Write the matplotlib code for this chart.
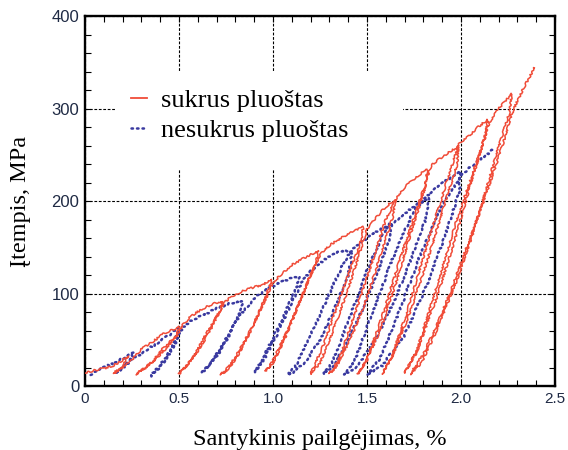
import numpy as np
import matplotlib
matplotlib.use("Agg")
import matplotlib.pyplot as plt
from matplotlib.ticker import MultipleLocator, FixedLocator, FixedFormatter
from matplotlib.patches import Rectangle
from matplotlib.lines import Line2D

# twisted bundle (sukrus pluostas): cyclic load / unload path, strain % and stress MPa
red_x = [0.00, 0.05, 0.10, 0.15, 0.20, 0.23,
         0.21, 0.18, 0.15,
         0.19, 0.25, 0.30, 0.36, 0.42, 0.50,
         0.49, 0.42, 0.35, 0.30, 0.27,
         0.32, 0.38, 0.45, 0.50, 0.52, 0.56, 0.62, 0.68, 0.73,
         0.72, 0.66, 0.60, 0.55, 0.50,
         0.54, 0.60, 0.66, 0.71, 0.74, 0.78, 0.84, 0.90, 0.95, 0.99,
         0.98, 0.93, 0.87, 0.81, 0.76, 0.72,
         0.77, 0.84, 0.91, 0.97, 1.00, 1.05, 1.10, 1.16, 1.21, 1.24,
         1.23, 1.17, 1.10, 1.03, 0.99, 0.96,
         1.00, 1.06, 1.13, 1.20, 1.25, 1.30, 1.36, 1.42, 1.48,
         1.47, 1.40, 1.33, 1.27, 1.22, 1.20,
         1.25, 1.32, 1.40, 1.47, 1.50, 1.54, 1.59, 1.63, 1.65,
         1.64, 1.57, 1.49, 1.41, 1.34, 1.30,
         1.35, 1.43, 1.52, 1.60, 1.66, 1.70, 1.75, 1.80, 1.82,
         1.81, 1.74, 1.66, 1.57, 1.49, 1.45,
         1.50, 1.58, 1.68, 1.78, 1.84, 1.88, 1.93, 1.985,
         1.98, 1.91, 1.82, 1.72, 1.63, 1.58,
         1.63, 1.72, 1.83, 1.93, 1.99, 2.04, 2.09, 2.14,
         2.13, 2.06, 1.97, 1.87, 1.77, 1.70,
         1.76, 1.86, 1.97, 2.08, 2.15, 2.20, 2.27,
         2.26, 2.18, 2.08, 1.97, 1.87, 1.79, 1.73,
         1.80, 1.87, 1.94, 2.03, 2.13, 2.22, 2.28, 2.34, 2.39]
red_y = [14, 17, 19, 22, 28, 33,
         25, 18, 14,
         18, 28, 40, 48, 57, 64,
         55, 42, 24, 16, 13,
         20, 30, 45, 58, 66, 75, 83, 89, 92,
         82, 62, 40, 24, 13,
         22, 38, 58, 78, 90, 97, 103, 107, 110, 116,
         106, 82, 55, 32, 18, 12,
         22, 45, 72, 98, 112, 122, 131, 138, 143, 147,
         135, 105, 70, 40, 24, 16,
         25, 50, 85, 120, 142, 152, 160, 167, 172,
         158, 120, 80, 45, 22, 13,
         25, 60, 105, 150, 170, 180, 192, 199, 201,
         185, 140, 90, 50, 22, 13,
         28, 75, 130, 180, 205, 215, 224, 232, 234,
         215, 170, 115, 60, 25, 13,
         28, 75, 140, 200, 238, 245, 252, 259,
         240, 195, 135, 75, 30, 13,
         30, 85, 160, 225, 262, 270, 280, 288,
         270, 225, 160, 95, 40, 14,
         35, 100, 175, 240, 285, 300, 316,
         298, 245, 175, 110, 60, 25, 13,
         35, 65, 100, 150, 205, 260, 300, 325, 344]

# untwisted bundle (nesukrus pluostas)
blue_x = [0.03, 0.08, 0.14, 0.20, 0.26,
          0.24, 0.20, 0.16,
          0.20, 0.26, 0.32, 0.38, 0.44, 0.50,
          0.49, 0.46, 0.42, 0.38, 0.35,
          0.39, 0.44, 0.49, 0.52, 0.56, 0.62, 0.70, 0.78, 0.84,
          0.83, 0.78, 0.72, 0.66, 0.62,
          0.67, 0.74, 0.82, 0.90, 0.97, 1.04, 1.10, 1.14,
          1.13, 1.07, 1.00, 0.94, 0.90,
          0.95, 1.02, 1.10, 1.17, 1.23, 1.30, 1.36, 1.40, 1.42,
          1.40, 1.33, 1.25, 1.17, 1.10, 1.08,
          1.13, 1.21, 1.30, 1.38, 1.43, 1.50, 1.56, 1.61, 1.63,
          1.62, 1.55, 1.47, 1.39, 1.32, 1.27,
          1.32, 1.40, 1.50, 1.60, 1.66, 1.72, 1.78, 1.83,
          1.82, 1.74, 1.65, 1.55, 1.45, 1.38,
          1.44, 1.53, 1.64, 1.75, 1.84, 1.92, 2.00,
          1.99, 1.92, 1.82, 1.70, 1.58, 1.50,
          1.57, 1.67, 1.78, 1.90, 2.00, 2.08, 2.18]
blue_y = [12, 18, 24, 30, 36,
          28, 19, 14,
          20, 30, 38, 46, 54, 63,
          55, 42, 28, 18, 11,
          18, 32, 50, 63, 70, 76, 84, 90, 92,
          82, 60, 38, 22, 14,
          25, 48, 75, 95, 105, 112, 117, 119,
          108, 82, 52, 28, 15,
          28, 55, 90, 118, 130, 140, 146, 146, 142,
          120, 85, 50, 25, 14, 12,
          25, 60, 100, 135, 150, 160, 168, 174, 176,
          160, 120, 80, 45, 22, 13,
          28, 70, 125, 170, 180, 190, 198, 203,
          185, 140, 95, 52, 22, 12,
          30, 80, 140, 190, 210, 222, 232,
          210, 165, 110, 55, 22, 12,
          30, 80, 140, 195, 228, 242, 257]

x_ticks = [0, 0.5, 1.0, 1.5, 2.0, 2.5]
x_labels = ["0", "0.5", "1.0", "1.5", "2.0", "2.5"]
y_ticks = [0, 100, 200, 300, 400]
y_labels = ["0", "100", "200", "300", "400"]

serif = "Liberation Serif"
sans = "Liberation Sans"
red = "#f04c38"
blue = "#3a3aa0"

fig = plt.figure(figsize=(5.68, 4.5), dpi=100)
ax = fig.add_axes([0.1496, 0.142, 0.8275, 0.822])

ax.set_xlim(0, 2.5)
ax.set_ylim(0, 400)
ax.set_axisbelow(True)
ax.grid(True, which="major", color="black", linestyle=(0, (2.5, 1.5)), linewidth=0.8)

# white area behind the legend hides the grid there
ax.add_patch(Rectangle((0.064, 0.584), 0.613, 0.265, transform=ax.transAxes,
                       facecolor="white", edgecolor="none", zorder=1))

red_line, = ax.plot(red_x, red_y, color=red, linewidth=1.1, zorder=3)
red_line.set_sketch_params(scale=0.9, length=5, randomness=6)

blue_line, = ax.plot(blue_x, blue_y, color=blue, linewidth=1.8, zorder=2,
                     linestyle=(0, (0.6, 1.6)), dash_capstyle="round")
blue_line.set_sketch_params(scale=0.8, length=6, randomness=5)

ax.xaxis.set_major_locator(FixedLocator(x_ticks))
ax.xaxis.set_major_formatter(FixedFormatter(x_labels))
ax.yaxis.set_major_locator(FixedLocator(y_ticks))
ax.yaxis.set_major_formatter(FixedFormatter(y_labels))
ax.xaxis.set_minor_locator(MultipleLocator(0.1))
ax.yaxis.set_minor_locator(MultipleLocator(20))
ax.tick_params(which="both", direction="in", top=True, right=True,
               length=4, width=0.8, colors="black")
ax.tick_params(axis="x", which="major", labelsize=11, pad=4, labelcolor="#1f2a44")
ax.tick_params(axis="y", which="major", labelsize=12, pad=4, labelcolor="#1f2a44")
for lab in ax.get_xticklabels() + ax.get_yticklabels():
    lab.set_fontfamily(sans)

for s in ax.spines.values():
    s.set_linewidth(1.7)

ax.set_xlabel("Santykinis pailgėjimas, %", fontfamily=serif, fontsize=17.5, labelpad=17)
ax.set_ylabel("Įtempis, MPa", fontfamily=serif, fontsize=17.5, labelpad=15)

# plain proxies so the legend keys stay straight
handles = [Line2D([], [], color=red, linewidth=1.3),
           Line2D([], [], color=blue, linewidth=1.8, linestyle=(0, (0.6, 1.6)),
                  dash_capstyle="round")]
ax.legend(handles, ["sukrus pluoštas", "nesukrus pluoštas"],
          loc="upper left", bbox_to_anchor=(0.098, 0.805), frameon=False,
          prop={"family": serif, "size": 19}, handlelength=0.6,
          handletextpad=0.55, labelspacing=0.27, borderpad=0, borderaxespad=0)

fig.savefig("out.png", dpi=100)
